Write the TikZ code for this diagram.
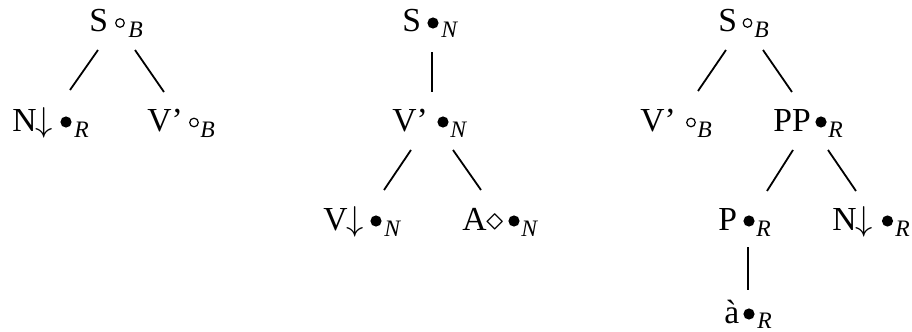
\documentclass[tikz,border=0pt]{standalone}
\usepackage{fontspec}
\setmainfont{Liberation Serif}
\begin{document}
\begin{tikzpicture}[x=0.5pt,y=-0.5pt,
  lab/.style={anchor=base west,inner sep=0pt,font=\fontsize{16.8}{19}\selectfont},
  sb/.style={anchor=base west,inner sep=0pt,font=\fontsize{11.8}{13}\selectfont\itshape},
  fdot/.style={circle,fill=black,inner sep=0pt,minimum size=5.6pt},
  odot/.style={circle,draw=black,line width=0.6pt,inner sep=0pt,minimum size=4.3pt},
  edge/.style={line width=0.9pt}]
\useasboundingbox (0,0) rectangle (912,332);
% ---------- tree 1
\node[lab] (a1) at (89,32) {S};
\node[odot] (a1m) at (120,23) {};
\node[sb] (a1s) at (128,38) {B};
\node[lab] (a2) at (12,131) {N\kern-0.5pt$\downarrow$};
\node[fdot] (a2m) at (66,122) {};
\node[sb] (a2s) at (74,137) {R};
\node[lab] (a3) at (147,131) {V’};
\node[odot] (a3m) at (194,122.5) {};
\node[sb] (a3s) at (200,137) {B};
\draw[edge] ([shift={(9,18)}]a1.base west) -- ([shift={(58,-41)}]a2.base west);
\draw[edge] ([shift={(46,18)}]a1.base west) -- ([shift={(17,-39)}]a3.base west);
% ---------- tree 2
\node[lab] (b1) at (402,32) {S};
\node[fdot] (b1m) at (433,23) {};
\node[sb] (b1s) at (441,38) {N};
\node[lab] (b2) at (392,131) {V’};
\node[fdot] (b2m) at (443,122) {};
\node[sb] (b2s) at (450,137) {N};
\node[lab] (b3) at (323,230) {V\kern-0.5pt$\downarrow$};
\node[fdot] (b3m) at (376,221) {};
\node[sb] (b3s) at (384,236) {N};
\node[lab] (b4) at (462,230) {A$\diamond$};
\node[fdot] (b4m) at (514,221) {};
\node[sb] (b4s) at (521,236) {N};
\draw[edge] ([shift={(30,20)}]b1.base west) -- ([shift={(40,-39)}]b2.base west);
\draw[edge] ([shift={(19,19)}]b2.base west) -- ([shift={(61,-40)}]b3.base west);
\draw[edge] ([shift={(61,19)}]b2.base west) -- ([shift={(19,-40)}]b4.base west);
% ---------- tree 3
\node[lab] (c1) at (718,32) {S};
\node[odot] (c1m) at (747.5,23) {};
\node[sb] (c1s) at (754,38) {B};
\node[lab] (c2) at (640,131) {V’};
\node[odot] (c2m) at (691,122.5) {};
\node[sb] (c2s) at (697,137) {B};
\node[lab] (c3) at (773,131) {PP};
\node[fdot] (c3m) at (821,122) {};
\node[sb] (c3s) at (828,137) {R};
\node[lab] (c4) at (718,230) {P};
\node[fdot] (c4m) at (749,221) {};
\node[sb] (c4s) at (756,236) {R};
\node[lab] (c5) at (832,230) {N\kern-0.5pt$\downarrow$};
\node[fdot] (c5m) at (887.5,221) {};
\node[sb] (c5s) at (895,236) {R};
\node[lab] (c6) at (724,323) {à};
\node[fdot] (c6m) at (749,314) {};
\node[sb] (c6s) at (757,328) {R};
\draw[edge] ([shift={(8,18)}]c1.base west) -- ([shift={(58,-40)}]c2.base west);
\draw[edge] ([shift={(45,18)}]c1.base west) -- ([shift={(19,-39)}]c3.base west);
\draw[edge] ([shift={(20,19)}]c3.base west) -- ([shift={(49,-39)}]c4.base west);
\draw[edge] ([shift={(55,19)}]c3.base west) -- ([shift={(24,-39)}]c5.base west);
\draw[edge] ([shift={(30,17)}]c4.base west) -- ([shift={(24,-33)}]c6.base west);
\end{tikzpicture}
\end{document}
